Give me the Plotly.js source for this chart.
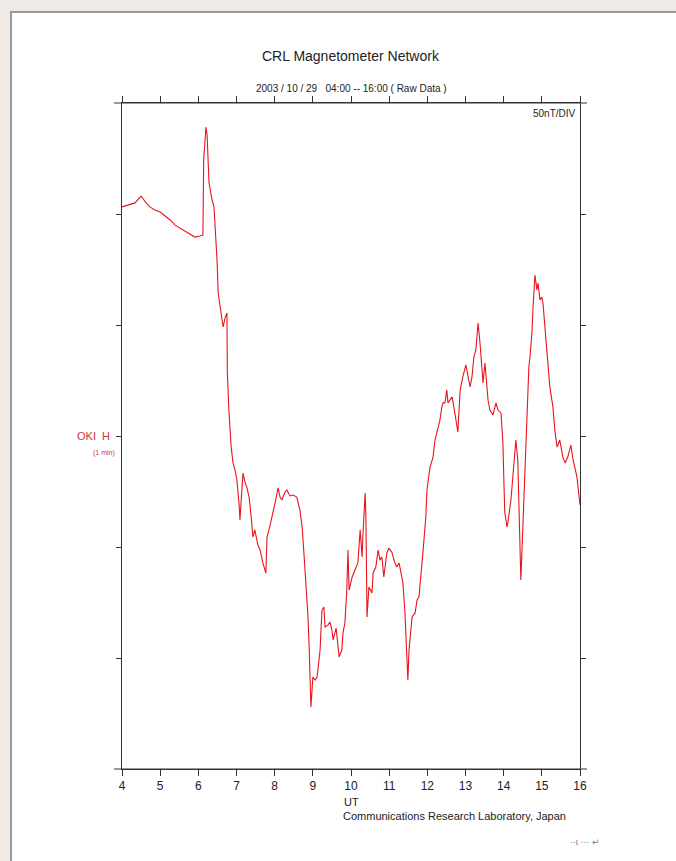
<!DOCTYPE html>
<html>
<head>
<meta charset="utf-8">
<script src="https://cdn.plot.ly/plotly-3.0.1.min.js"></script>
<style>
  html, body { margin: 0; padding: 0; background: #efeae5; }
  #chart { width: 676px; height: 861px; }
</style>
</head>
<body>
<div id="chart"></div>
<script>
// UT hours (2003-10-29) and OKI H-component deviation in nT (50 nT per division)
const hours = [4.00,4.21,4.34,4.50,4.63,4.73,4.86,5.00,5.13,5.26,5.39,5.52,5.65,5.78,5.91,6.04,6.12,6.14,6.17,6.20,6.23,6.25,6.28,6.36,6.41,6.46,6.49,6.52,6.57,6.65,6.70,6.75,6.76,6.80,6.86,6.91,6.96,7.01,7.07,7.09,7.17,7.22,7.27,7.33,7.38,7.43,7.48,7.56,7.62,7.69,7.77,7.80,7.88,7.93,8.01,8.09,8.14,8.19,8.27,8.32,8.40,8.48,8.58,8.66,8.72,8.77,8.82,8.85,8.87,8.90,8.93,8.95,8.98,9.00,9.06,9.11,9.14,9.19,9.21,9.24,9.29,9.32,9.40,9.45,9.50,9.53,9.61,9.66,9.69,9.76,9.79,9.84,9.89,9.92,9.95,10.03,10.10,10.18,10.24,10.29,10.31,10.37,10.39,10.42,10.47,10.55,10.58,10.65,10.71,10.76,10.81,10.86,10.94,10.99,11.07,11.15,11.20,11.26,11.31,11.36,11.41,11.47,11.49,11.52,11.55,11.60,11.68,11.73,11.78,11.86,11.89,11.96,11.99,12.07,12.15,12.20,12.28,12.33,12.38,12.41,12.46,12.51,12.54,12.59,12.65,12.72,12.80,12.86,12.91,12.93,13.01,13.06,13.12,13.17,13.22,13.27,13.33,13.38,13.43,13.46,13.51,13.56,13.59,13.64,13.72,13.80,13.85,13.93,13.98,14.01,14.03,14.09,14.11,14.19,14.24,14.32,14.37,14.40,14.43,14.45,14.48,14.51,14.53,14.56,14.61,14.66,14.69,14.74,14.77,14.82,14.87,14.90,14.95,15.00,15.03,15.08,15.13,15.21,15.29,15.34,15.40,15.47,15.55,15.61,15.68,15.76,15.82,15.92,15.97,16.00];
const okiH = [103.2,104.1,105.0,108.1,105.0,103.2,101.8,100.9,99.1,97.3,95.0,93.7,92.3,91.0,89.6,90.1,90.5,124.3,133.3,139.2,135.6,124.3,114.0,106.3,103.2,88.3,79.3,64.4,57.7,49.1,53.2,55.4,28.4,11.7,-5.0,-12.2,-15.3,-19.8,-31.1,-37.8,-16.7,-20.7,-23.0,-27.5,-35.6,-45.5,-42.3,-49.1,-51.4,-57.2,-61.7,-45.5,-40.1,-36.5,-30.2,-23.4,-27.5,-28.8,-25.2,-24.3,-27.0,-26.6,-27.5,-33.3,-41.0,-53.6,-67.1,-73.9,-80.6,-93.2,-109.9,-122.1,-114.4,-108.6,-109.9,-108.6,-104.1,-96.4,-88.7,-78.4,-77.0,-86.0,-85.1,-83.8,-87.4,-91.9,-86.5,-93.2,-99.5,-96.4,-88.7,-84.2,-69.4,-51.4,-69.4,-63.5,-60.4,-57.2,-42.3,-54.5,-45.5,-25.7,-36.5,-81.5,-68.0,-70.7,-61.7,-59.0,-51.4,-55.9,-54.5,-63.5,-52.7,-50.5,-52.3,-57.2,-59.0,-57.2,-61.7,-66.2,-78.4,-99.5,-109.9,-96.4,-91.9,-81.5,-79.7,-73.9,-72.5,-59.0,-51.4,-36.5,-24.3,-14.0,-9.5,-1.8,4.1,7.2,13.1,14.9,14.9,20.7,14.9,16.2,17.6,10.4,1.8,20.7,25.2,26.6,32.0,26.6,22.1,26.6,35.6,38.7,50.9,41.9,31.1,23.9,32.9,20.7,16.2,11.7,9.5,14.9,11.7,10.4,-3.2,-23.0,-34.7,-41.0,-39.2,-28.8,-16.7,-1.8,-10.8,-28.8,-46.8,-64.9,-51.4,-37.8,-28.8,-14.0,16.2,31.1,35.6,46.4,58.1,72.5,65.8,68.9,61.3,62.6,59.9,50.9,38.7,22.1,13.1,2.7,-5.0,-1.8,-9.5,-12.2,-9.5,-4.1,-10.8,-18.5,-28.8,-31.1];
const xTicks = [4,5,6,7,8,9,10,11,12,13,14,15,16];
const xTickLabels = ["4","5","6","7","8","9","10","11","12","13","14","15","16"];
const yTicks = [-100,-50,0,50,100];

const FONT = '"Liberation Sans", Arial, "DejaVu Sans", sans-serif';
const pxX = p => (p - 122) / 458;
const pxY = p => (769 - p) / 666;

const trace = {
  x: hours, y: okiH, type: 'scatter', mode: 'lines',
  line: {color: '#e8141c', width: 1.1},
  hoverinfo: 'skip', showlegend: false
};

const layout = {
  width: 676, height: 861,
  margin: {l: 122, r: 96, t: 103, b: 92},
  paper_bgcolor: '#efeae5',
  plot_bgcolor: 'rgba(0,0,0,0)',
  showlegend: false,
  font: {family: FONT, color: '#222'},
  xaxis: {
    range: [4, 16], tickvals: xTicks, ticktext: xTickLabels,
    ticks: 'outside', ticklen: 6, tickwidth: 1, tickcolor: '#333',
    showline: true, linecolor: '#333', linewidth: 1, mirror: 'ticks',
    showgrid: false, zeroline: false, fixedrange: true,
    tickfont: {family: FONT, size: 12, color: '#222'}
  },
  yaxis: {
    range: [-150, 150], tickvals: yTicks, showticklabels: false,
    ticks: 'outside', ticklen: 5, tickwidth: 1, tickcolor: '#333',
    showline: true, linecolor: '#333', linewidth: 1, mirror: 'ticks',
    showgrid: false, zeroline: false, fixedrange: true
  },
  shapes: [
    {type: 'rect', xref: 'paper', yref: 'paper', layer: 'below',
     x0: pxX(11), x1: pxX(720), y0: pxY(900), y1: pxY(12),
     fillcolor: '#ffffff', line: {color: '#9a9a9a', width: 2}},
    {type: 'line', xref: 'paper', yref: 'paper',
     x0: pxX(114), x1: pxX(587), y0: 1, y1: 1, line: {color: '#333', width: 1}},
    {type: 'line', xref: 'paper', yref: 'paper',
     x0: pxX(114), x1: pxX(587), y0: 0, y1: 0, line: {color: '#333', width: 1}}
  ],
  annotations: [
    {text: 'CRL Magnetometer Network', xref: 'paper', yref: 'paper',
     x: pxX(351), y: pxY(56), xanchor: 'center', yanchor: 'middle', showarrow: false,
     font: {family: FONT, size: 14, color: '#222'}},
    {text: '2003 / 10 / 29   04:00 -- 16:00 ( Raw Data )', xref: 'paper', yref: 'paper',
     x: pxX(351), y: pxY(88), xanchor: 'center', yanchor: 'middle', showarrow: false,
     font: {family: FONT, size: 10, color: '#222'}},
    {text: '50nT/DIV', xref: 'paper', yref: 'paper',
     x: pxX(578), y: pxY(113), xanchor: 'right', yanchor: 'middle', showarrow: false,
     font: {family: FONT, size: 10, color: '#222'}},
    {text: 'OKI  H', xref: 'paper', yref: 'paper',
     x: pxX(112), y: pxY(436), xanchor: 'right', yanchor: 'middle', showarrow: false,
     font: {family: FONT, size: 11, color: '#d2323c'}},
    {text: '(1 min)', xref: 'paper', yref: 'paper',
     x: pxX(117), y: pxY(453), xanchor: 'right', yanchor: 'middle', showarrow: false,
     font: {family: FONT, size: 7, color: '#d2323c'}},
    {text: 'UT', xref: 'paper', yref: 'paper',
     x: pxX(342), y: pxY(802), xanchor: 'left', yanchor: 'middle', showarrow: false,
     font: {family: FONT, size: 11, color: '#222'}},
    {text: 'Communications Research Laboratory, Japan', xref: 'paper', yref: 'paper',
     x: pxX(341), y: pxY(816), xanchor: 'left', yanchor: 'middle', showarrow: false,
     font: {family: FONT, size: 11, color: '#222'}},
    {text: '··ɩ ··· ↵', xref: 'paper', yref: 'paper',
     x: pxX(568), y: pxY(842), xanchor: 'left', yanchor: 'middle', showarrow: false,
     font: {family: FONT, size: 9, color: '#777'}}
  ]
};

Plotly.newPlot('chart', [trace], layout, {staticPlot: true, displayModeBar: false});
</script>
</body>
</html>
